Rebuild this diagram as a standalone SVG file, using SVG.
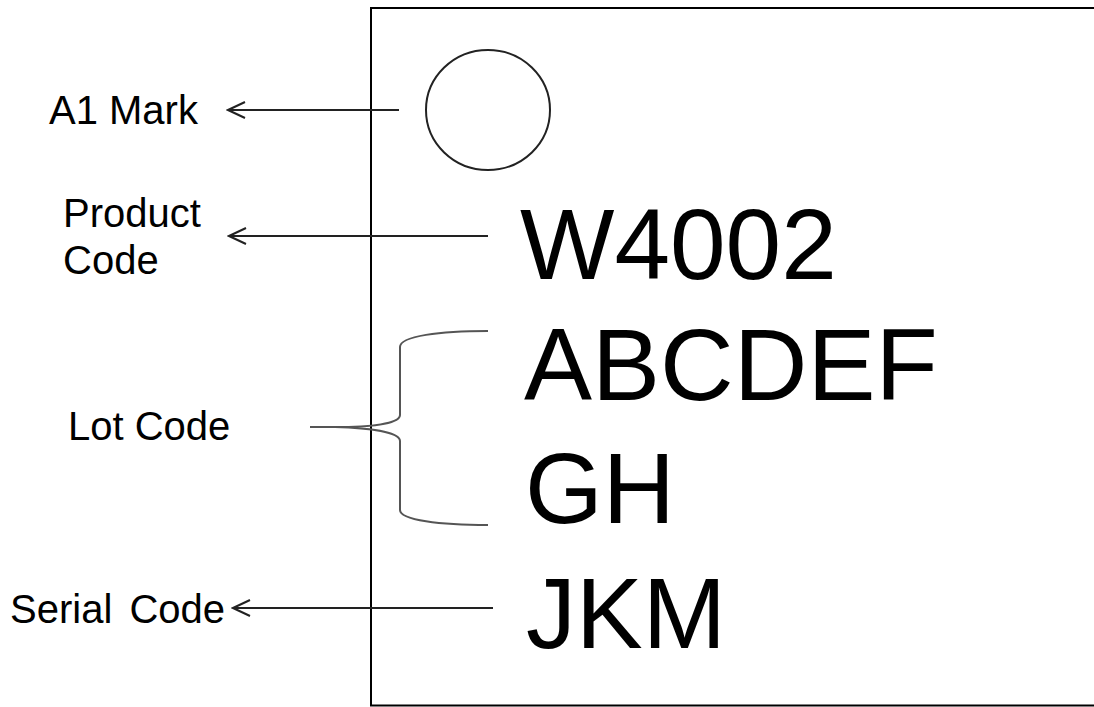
<svg xmlns="http://www.w3.org/2000/svg" width="1094" height="707" viewBox="0 0 1094 707">
<style>
.lbl{font-family:"Liberation Sans",Arial,sans-serif;font-size:40px;fill:#000}
.big{font-family:"Liberation Sans",Arial,sans-serif;font-size:100px;fill:#000}
.conn{fill:none;stroke:#222;stroke-width:2}
.brace{fill:none;stroke:#555;stroke-width:2}
</style>
<defs>
<marker id="open" viewBox="0 0 20 20" refX="18" refY="10" markerWidth="20" markerHeight="20" markerUnits="userSpaceOnUse" orient="auto">
<path d="M1,2 L18,10 L1,18" fill="none" stroke="#222" stroke-width="2"/>
</marker>
</defs>
<rect width="1094" height="707" fill="#fff"/>
<g id="chip">
<rect x="371" y="8" width="740" height="697.5" fill="none" stroke="#000" stroke-width="2"/>
</g>
<g id="a1-circle">
<ellipse cx="488" cy="110" rx="62" ry="60" fill="none" stroke="#222" stroke-width="2"/>
</g>
<g id="product-code-text"><text class="big" x="520" y="279">W4002</text></g>
<g id="lot-code-text">
<text class="big" x="524" y="400" style="font-size:102px">ABCDEF</text>
<text class="big" x="525" y="523">GH</text>
</g>
<g id="serial-code-text"><text class="big" x="526" y="648">JKM</text></g>
<g id="label-a1"><text class="lbl" x="49" y="124">A1 Mark</text></g>
<g id="label-product">
<text class="lbl" x="63" y="227">Product</text>
<text class="lbl" x="63" y="274">Code</text>
</g>
<g id="label-lot"><text class="lbl" x="68" y="440">Lot Code</text></g>
<g id="label-serial"><text class="lbl" x="10" y="623" word-spacing="6">Serial Code</text></g>
<g id="connectors">
<line class="conn" x1="399" y1="110" x2="228" y2="110" marker-end="url(#open)"/>
<line class="conn" x1="488" y1="236" x2="229" y2="236" marker-end="url(#open)"/>
<line class="conn" x1="493" y1="608" x2="233" y2="608" marker-end="url(#open)"/>
<path class="brace" d="M310,427 L335,427 C370,427 400,424 400,415 L400,347 C400,336 440,331 488,331"/>
<path class="brace" d="M335,427 C370,428 400,432 400,441 L400,510 C400,520 440,525 488,525"/>
</g>
</svg>
